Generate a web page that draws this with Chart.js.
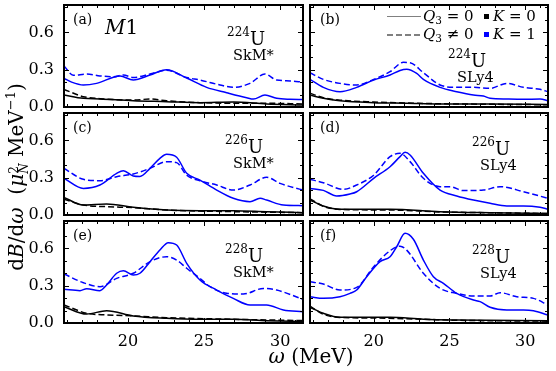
<!DOCTYPE html>
<html>
<head>
<meta charset="utf-8">
<script src="https://cdn.jsdelivr.net/npm/chart.js@4/dist/chart.umd.min.js"></script>
<style>
  body { margin: 0; background: #fff; }
  #wrap { position: relative; width: 556px; height: 371px; overflow: hidden; font-family: "DejaVu Serif", serif; color: #000; }
  #wrap canvas { position: absolute; left: 0; top: 0; }
  .t { position: absolute; white-space: nowrap; line-height: 1; }
  .up { position: relative; vertical-align: baseline; }
  .lg-line { position: absolute; height: 0; border-top: 1.6px solid #808080; }
  .lg-dash { position: absolute; height: 1.6px; background: repeating-linear-gradient(to right, #808080 0 6px, transparent 6px 9px); }
  .lg-sq { position: absolute; width: 5px; height: 5px; }
</style>
</head>
<body>
<div id="wrap">
  <canvas id="pa" width="556" height="371"></canvas>
  <canvas id="pb" width="556" height="371"></canvas>
  <canvas id="pc" width="556" height="371"></canvas>
  <canvas id="pd" width="556" height="371"></canvas>
  <canvas id="pe" width="556" height="371"></canvas>
  <canvas id="pf" width="556" height="371"></canvas>

  <!-- panel letters -->
  <div class="t" style="left:73px;top:12px;font-size:14px">(a)</div>
  <div class="t" style="left:105px;top:17px;font-size:20px"><i>M</i>1</div>
  <div class="t" style="left:320px;top:12px;font-size:14px">(b)</div>
  <div class="t" style="left:73px;top:120px;font-size:14px">(c)</div>
  <div class="t" style="left:320px;top:120px;font-size:14px">(d)</div>
  <div class="t" style="left:73px;top:228px;font-size:14px">(e)</div>
  <div class="t" style="left:320px;top:228px;font-size:14px">(f)</div>

  <!-- nucleus / force labels -->
  <div class="t" style="left:227px;top:30px;font-size:18px"><span class="up" style="font-size:12px;top:-9px">224</span>U</div>
  <div class="t" style="left:233px;top:48px;font-size:14.5px">SkM*</div>
  <div class="t" style="left:448px;top:52px;font-size:18px"><span class="up" style="font-size:12px;top:-9px">224</span>U</div>
  <div class="t" style="left:457px;top:70px;font-size:14.5px">SLy4</div>
  <div class="t" style="left:225px;top:138px;font-size:18px"><span class="up" style="font-size:12px;top:-9px">226</span>U</div>
  <div class="t" style="left:233px;top:156px;font-size:14.5px">SkM*</div>
  <div class="t" style="left:472px;top:140px;font-size:18px"><span class="up" style="font-size:12px;top:-9px">226</span>U</div>
  <div class="t" style="left:480px;top:158px;font-size:14.5px">SLy4</div>
  <div class="t" style="left:225px;top:247px;font-size:18px"><span class="up" style="font-size:12px;top:-9px">228</span>U</div>
  <div class="t" style="left:233px;top:265px;font-size:14.5px">SkM*</div>
  <div class="t" style="left:472px;top:248px;font-size:18px"><span class="up" style="font-size:12px;top:-9px">228</span>U</div>
  <div class="t" style="left:480px;top:266px;font-size:14.5px">SLy4</div>

  <!-- legend in (b) -->
  <div class="lg-line" style="left:387px;top:16px;width:34px"></div>
  <div class="t" style="left:423px;top:9px;font-size:15px"><i>Q</i><span class="up" style="font-size:10.5px;top:3px">3</span> = 0</div>
  <div class="lg-sq" style="left:484px;top:14px;background:#000"></div>
  <div class="t" style="left:493px;top:9px;font-size:15px"><i>K</i> = 0</div>
  <div class="lg-dash" style="left:387px;top:34px;width:34px"></div>
  <div class="t" style="left:423px;top:27px;font-size:15px"><i>Q</i><span class="up" style="font-size:10.5px;top:3px">3</span> ≠ 0</div>
  <div class="lg-sq" style="left:484px;top:32px;background:#0000ff"></div>
  <div class="t" style="left:493px;top:27px;font-size:15px"><i>K</i> = 1</div>

  <!-- axis titles -->
  <div class="t" style="left:211px;top:346px;width:200px;text-align:center;font-size:20px"><i>ω</i> (MeV)</div>
  <div class="t" style="left:-133px;top:166px;width:300px;height:22px;text-align:center;font-size:20px;transform:rotate(-90deg)">d<i>B</i>/d<i>ω</i>&nbsp; (<i>μ</i><span style="display:inline-block;vertical-align:-5px;line-height:0.85;font-size:12px;text-align:left"><span style="display:block">2</span><span style="display:block"><i>N</i></span></span> MeV<span class="up" style="font-size:13px;top:-8px">−1</span>)</div>
</div>

<script>
// axis ranges and ticks
const energyMin = 15.8;
const energyMax = 31.5;
const strengthMin = 0;
const strengthMax = 0.82;
const xMajorTicks = [20, 25, 30];
const xAllTicks = [16, 17, 18, 19, 20, 21, 22, 23, 24, 25, 26, 27, 28, 29, 30, 31];
const yMajorTicks = [0, 0.3, 0.6];
const yAllTicks = [0, 0.1, 0.2, 0.3, 0.4, 0.5, 0.6, 0.7, 0.8];

// [omega (MeV), dB/domega]
// (a) 224U SkM*
const aK0Q0 = [[15.8,0.097],[17.07,0.07],[18.16,0.065],[20.35,0.05],[22.54,0.043],[24.73,0.035],[26.92,0.04],[29.11,0.024],[31.5,0.016]];
const aK0Q1 = [[15.8,0.142],[17.07,0.083],[18.16,0.067],[20.35,0.056],[21.45,0.064],[22.54,0.05],[24.73,0.035],[26.92,0.03],[29.11,0.03],[31.5,0.024]];
const aK1Q0 = [[15.8,0.23],[16.3,0.2],[17.07,0.177],[17.94,0.19],[19.48,0.25],[20.35,0.217],[21.45,0.257],[22.54,0.3],[23.86,0.233],[25.17,0.158],[26.49,0.115],[27.8,0.075],[28.24,0.064],[29.0,0.096],[29.77,0.07],[30.65,0.062],[31.5,0.06]];
const aK1Q1 = [[15.8,0.33],[16.41,0.255],[17.29,0.265],[18.16,0.25],[19.04,0.243],[19.7,0.257],[20.35,0.237],[21.45,0.265],[22.54,0.295],[23.86,0.237],[24.73,0.217],[26.05,0.177],[26.92,0.158],[28.02,0.19],[29.0,0.265],[29.77,0.217],[30.65,0.21],[31.5,0.2]];
// (b) 224U SLy4
const bK0Q0 = [[15.8,0.096],[16.68,0.07],[17.78,0.05],[20.0,0.035],[22.18,0.03],[24.38,0.024],[27.68,0.024],[31.5,0.02]];
const bK0Q1 = [[15.8,0.11],[16.68,0.075],[17.78,0.055],[20.0,0.04],[22.18,0.032],[24.38,0.026],[27.68,0.022],[31.5,0.018]];
const bK1Q0 = [[15.8,0.222],[16.68,0.158],[17.78,0.123],[18.88,0.158],[20.0,0.217],[21.08,0.257],[21.74,0.294],[22.18,0.303],[22.84,0.27],[23.28,0.222],[24.38,0.158],[25.48,0.123],[26.58,0.096],[27.24,0.088],[27.68,0.07],[28.78,0.064],[29.88,0.062],[30.98,0.064],[31.5,0.05]];
const bK1Q1 = [[15.8,0.276],[16.68,0.222],[17.78,0.19],[18.88,0.177],[20.0,0.222],[21.08,0.284],[21.96,0.359],[22.4,0.356],[23.28,0.276],[24.38,0.177],[25.48,0.158],[26.58,0.158],[27.68,0.15],[28.78,0.19],[29.88,0.158],[30.98,0.142],[31.5,0.123]];
// (c) 226U SkM*
const cK0Q0 = [[15.8,0.142],[17.07,0.08],[18.6,0.088],[20.35,0.062],[22.54,0.04],[24.73,0.035],[26.92,0.035],[29.11,0.027],[31.5,0.019]];
const cK0Q1 = [[15.8,0.126],[17.07,0.08],[18.6,0.067],[20.35,0.059],[22.54,0.04],[26.92,0.027],[31.5,0.019]];
const cK1Q0 = [[15.8,0.295],[17.07,0.214],[18.16,0.241],[19.26,0.335],[19.7,0.356],[20.35,0.314],[20.79,0.31],[21.45,0.375],[22.1,0.455],[22.54,0.488],[23.2,0.464],[23.86,0.335],[24.73,0.281],[25.83,0.2],[26.92,0.134],[28.02,0.107],[28.68,0.134],[29.11,0.12],[30.21,0.08],[31.5,0.075]];
const cK1Q1 = [[15.8,0.375],[17.07,0.287],[18.16,0.276],[19.26,0.308],[20.35,0.33],[21.45,0.375],[22.54,0.429],[23.2,0.421],[23.86,0.32],[24.73,0.276],[25.83,0.241],[26.92,0.2],[28.02,0.241],[29.11,0.303],[29.99,0.254],[31.5,0.2]];
// (d) 226U SLy4
const dK0Q0 = [[15.8,0.12],[16.68,0.073],[17.78,0.046],[21.08,0.046],[24.38,0.027],[27.68,0.019],[31.5,0.013]];
const dK0Q1 = [[15.8,0.13],[16.68,0.07],[17.78,0.045],[21.08,0.04],[24.38,0.025],[27.68,0.018],[31.5,0.012]];
const dK1Q0 = [[15.8,0.214],[16.68,0.198],[17.56,0.153],[18.44,0.169],[18.88,0.187],[20.0,0.295],[21.08,0.388],[21.74,0.469],[22.07,0.504],[22.4,0.483],[23.28,0.335],[24.38,0.2],[25.48,0.153],[26.58,0.12],[27.68,0.094],[28.78,0.073],[29.88,0.073],[30.98,0.062],[31.5,0.046]];
const dK1Q1 = [[15.8,0.287],[16.68,0.26],[18.0,0.206],[18.88,0.241],[20.0,0.32],[21.08,0.469],[21.74,0.496],[22.4,0.429],[23.28,0.295],[24.38,0.228],[25.04,0.228],[25.92,0.196],[27.24,0.2],[28.34,0.228],[29.88,0.187],[31.5,0.134]];
// (e) 228U SkM*
const eK0Q0 = [[15.8,0.131],[17.29,0.072],[18.6,0.099],[20.35,0.057],[22.54,0.038],[24.73,0.03],[26.92,0.03],[29.11,0.019],[31.5,0.011]];
const eK0Q1 = [[15.8,0.145],[17.29,0.078],[18.6,0.065],[20.35,0.057],[22.54,0.043],[26.92,0.03],[31.5,0.019]];
const eK1Q0 = [[15.8,0.271],[16.85,0.26],[17.29,0.276],[18.16,0.26],[18.6,0.305],[19.26,0.4],[19.7,0.42],[20.35,0.386],[20.79,0.4],[21.45,0.493],[22.1,0.587],[22.65,0.646],[23.2,0.627],[23.86,0.48],[24.73,0.346],[25.83,0.265],[26.92,0.198],[28.02,0.145],[29.11,0.145],[30.21,0.105],[31.5,0.09]];
const eK1Q1 = [[15.8,0.394],[17.07,0.324],[18.16,0.292],[19.26,0.359],[20.35,0.4],[21.45,0.493],[22.54,0.533],[23.2,0.506],[23.86,0.44],[24.73,0.359],[25.39,0.292],[26.49,0.239],[27.58,0.233],[28.9,0.278],[29.77,0.265],[31.5,0.19]];
// (f) 228U SLy4
const fK0Q0 = [[15.8,0.126],[16.68,0.078],[17.78,0.046],[20.0,0.046],[21.08,0.046],[23.28,0.03],[25.48,0.024],[31.5,0.019]];
const fK0Q1 = [[15.8,0.135],[16.68,0.07],[17.78,0.045],[20.0,0.04],[23.28,0.03],[25.48,0.022],[31.5,0.015]];
const fK1Q0 = [[15.8,0.211],[16.68,0.198],[17.78,0.211],[18.44,0.238],[18.88,0.265],[19.54,0.372],[20.42,0.493],[21.08,0.533],[21.52,0.613],[22.07,0.721],[22.62,0.673],[23.28,0.506],[23.94,0.372],[24.6,0.319],[25.48,0.238],[26.58,0.185],[27.02,0.172],[27.68,0.126],[28.78,0.105],[29.88,0.105],[30.54,0.099],[31.5,0.064]];
const fK1Q1 = [[15.8,0.332],[16.68,0.313],[17.78,0.265],[18.88,0.286],[20.0,0.453],[21.08,0.581],[21.74,0.618],[22.18,0.586],[23.28,0.4],[24.38,0.278],[25.48,0.238],[26.58,0.217],[27.68,0.217],[28.34,0.244],[29.44,0.211],[30.54,0.198],[31.5,0.145]];

// panel frames in page pixels
const colX = [[64, 303], [310, 548]];
const rowY = [[5, 107], [113, 215], [221, 323]];
const yAxisBox = 56;   // room kept left of each frame for y tick labels
const xAxisBox = 28;   // room kept under each frame for x tick labels

const panels = [
    { id: 'pa', col: 0, row: 0, lines: [aK0Q1, aK0Q0, aK1Q1, aK1Q0] },
    { id: 'pb', col: 1, row: 0, lines: [bK0Q1, bK0Q0, bK1Q1, bK1Q0] },
    { id: 'pc', col: 0, row: 1, lines: [cK0Q1, cK0Q0, cK1Q1, cK1Q0] },
    { id: 'pd', col: 1, row: 1, lines: [dK0Q1, dK0Q0, dK1Q1, dK1Q0] },
    { id: 'pe', col: 0, row: 2, lines: [eK0Q1, eK0Q0, eK1Q1, eK1Q0] },
    { id: 'pf', col: 1, row: 2, lines: [fK0Q1, fK0Q0, fK1Q1, fK1Q0] },
];

// matplotlib-like frame with inward ticks on all four sides
const frameTicks = {
    id: 'frameTicks',
    afterDraw(chart) {
        const { ctx, chartArea: a, scales: { x, y } } = chart;
        ctx.save();
        ctx.strokeStyle = '#000';
        ctx.lineWidth = 1;
        ctx.beginPath();
        xAllTicks.forEach(function (v) {
            const len = xMajorTicks.includes(v) ? 5 : 3;
            const px = Math.round(x.getPixelForValue(v)) + 0.5;
            ctx.moveTo(px, a.bottom); ctx.lineTo(px, a.bottom - len);
            ctx.moveTo(px, a.top); ctx.lineTo(px, a.top + len);
        });
        yAllTicks.forEach(function (v) {
            const len = yMajorTicks.includes(v) ? 5 : 3;
            const py = Math.round(y.getPixelForValue(v)) + 0.5;
            ctx.moveTo(a.left, py); ctx.lineTo(a.left + len, py);
            ctx.moveTo(a.right, py); ctx.lineTo(a.right - len, py);
        });
        ctx.stroke();
        ctx.lineWidth = 2;
        ctx.strokeRect(a.left, a.top, a.right - a.left, a.bottom - a.top);
        ctx.restore();
    }
};

const tickFont = { family: "'DejaVu Serif', serif", size: 16 };

function makeDataset(points, color, dashed) {
    return {
        data: points.map(p => ({ x: p[0], y: p[1] })),
        borderColor: color,
        borderWidth: 1.5,
        borderDash: dashed ? [6, 3] : [],
        pointRadius: 0,
        fill: false,
        cubicInterpolationMode: 'monotone'
    };
}

function noPadding(s) {
    s.paddingTop = 0; s.paddingBottom = 0; s.paddingLeft = 0; s.paddingRight = 0;
}

panels.forEach(function (p) {
    const [left, right] = colX[p.col];
    const [top, bottom] = rowY[p.row];
    const showX = p.row === 2;
    const showY = p.col === 0;

    new Chart(document.getElementById(p.id), {
        type: 'line',
        data: {
            datasets: [
                makeDataset(p.lines[0], '#000000', true),
                makeDataset(p.lines[1], '#000000', false),
                makeDataset(p.lines[2], '#0000ff', true),
                makeDataset(p.lines[3], '#0000ff', false)
            ]
        },
        options: {
            responsive: false,
            animation: false,
            devicePixelRatio: 1,
            layout: { padding: { left: left - yAxisBox, top: top, right: 556 - right, bottom: 371 - bottom - xAxisBox } },
            plugins: { legend: { display: false }, tooltip: { enabled: false } },
            scales: {
                x: {
                    type: 'linear',
                    min: energyMin,
                    max: energyMax,
                    afterBuildTicks: s => { s.ticks = xMajorTicks.map(v => ({ value: v })); },
                    afterFit: s => { s.height = xAxisBox; noPadding(s); },
                    grid: { display: false, drawTicks: false },
                    border: { display: false },
                    ticks: { display: showX, padding: 9, color: '#000', font: tickFont, maxRotation: 0, autoSkip: false }
                },
                y: {
                    min: strengthMin,
                    max: strengthMax,
                    afterBuildTicks: s => { s.ticks = yMajorTicks.map(v => ({ value: v })); },
                    afterFit: s => { s.width = yAxisBox; noPadding(s); },
                    grid: { display: false, drawTicks: false },
                    border: { display: false },
                    ticks: { display: showY, padding: 10, color: '#000', font: tickFont, autoSkip: false,
                        callback: v => v.toFixed(1) }
                }
            }
        },
        plugins: [frameTicks]
    });
});
</script>
</body>
</html>
